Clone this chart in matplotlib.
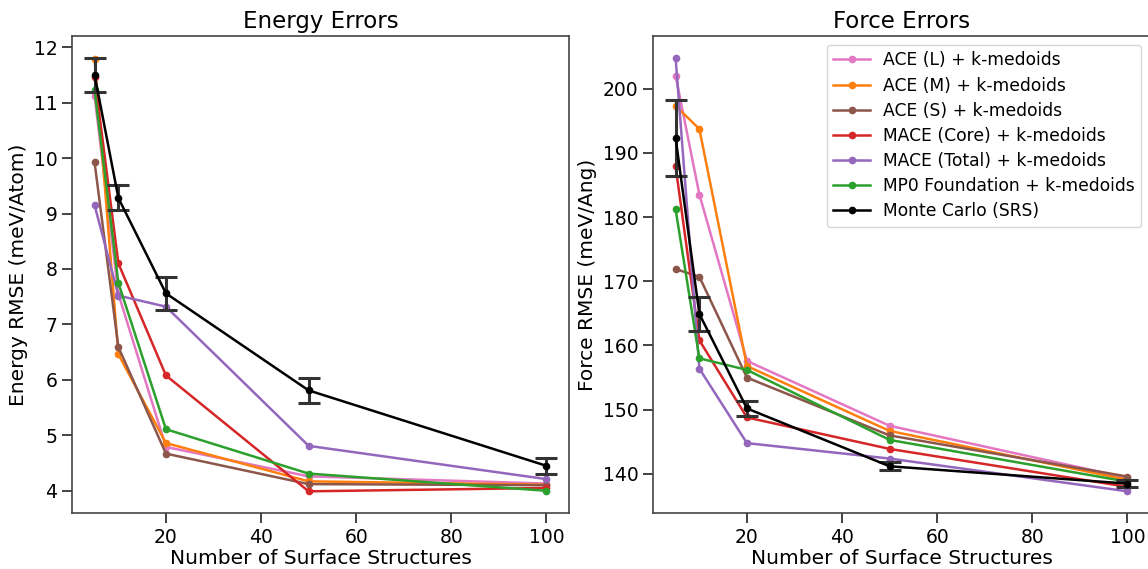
import matplotlib.pyplot as plt
from matplotlib.lines import Line2D

n_struct = [5, 10, 20, 50, 100]

labels = ['ACE (L) + k-medoids', 'ACE (M) + k-medoids', 'ACE (S) + k-medoids',
          'MACE (Core) + k-medoids', 'MACE (Total) + k-medoids',
          'MP0 Foundation + k-medoids']
colors = ['#e377c2', '#ff7f0e', '#8c564b', '#d62728', '#9467bd', '#2ca02c']

energy_ace_l = [11.12, 7.55, 4.79, 4.26, 4.13]
energy_ace_m = [11.78, 6.46, 4.86, 4.17, 4.11]
energy_ace_s = [9.92, 6.59, 4.67, 4.12, 4.10]
energy_mace_core = [11.46, 8.10, 6.08, 3.99, 4.05]
energy_mace_total = [9.15, 7.52, 7.32, 4.81, 4.21]
energy_mp0 = [11.22, 7.75, 5.11, 4.31, 4.00]
energy_mc = [11.50, 9.28, 7.56, 5.81, 4.45]
energy_mc_err = [0.31, 0.225, 0.30, 0.23, 0.14]

force_ace_l = [202.0, 183.5, 157.6, 147.5, 139.4]
force_ace_m = [197.3, 193.7, 156.8, 146.7, 139.1]
force_ace_s = [171.9, 170.7, 155.0, 146.0, 139.6]
force_mace_core = [187.9, 160.8, 148.8, 143.9, 138.0]
force_mace_total = [204.8, 156.4, 144.8, 142.4, 137.3]
force_mp0 = [181.2, 158.0, 156.2, 145.3, 138.8]
force_mc = [192.3, 164.9, 150.2, 141.2, 138.5]
force_mc_err = [5.9, 2.6, 1.2, 0.6, 0.5]

energy_series = [energy_ace_l, energy_ace_m, energy_ace_s, energy_mace_core,
                 energy_mace_total, energy_mp0]
force_series = [force_ace_l, force_ace_m, force_ace_s, force_mace_core,
                force_mace_total, force_mp0]

fig = plt.figure(figsize=(11.48, 5.69), dpi=100)
ax1 = fig.add_axes([72/1148, 1 - 513/569, 497/1148, 477/569])
ax2 = fig.add_axes([653/1148, 1 - 513/569, 497/1148, 477/569])

def draw(ax, series, mc, mc_err):
    handles = []
    for s, c, lab in zip(series, colors, labels):
        h, = ax.plot(n_struct, s, '-o', color=c, lw=1.8, ms=4.5, label=lab)
        handles.append(h)
    ax.errorbar(n_struct, mc, yerr=mc_err, fmt='-o', color='k', lw=1.8, ms=4.5,
                ecolor='#333333', elinewidth=2.2, capsize=8, capthick=2.2)
    handles.append(Line2D([], [], color='k', marker='o', lw=1.8, ms=4.5,
                          label='Monte Carlo (SRS)'))
    for sp in ax.spines.values():
        sp.set_color('#444444')
        sp.set_linewidth(1.2)
    ax.tick_params(labelsize=13.5, length=7, width=1.2, color='#222222')
    ax.set_xlabel('Number of Surface Structures', fontsize=14.5, labelpad=2)
    ax.set_xticks([20, 40, 60, 80, 100])
    return handles

draw(ax1, energy_series, energy_mc, energy_mc_err)
ax1.set_title('Energy Errors', fontsize=16.5)
ax1.set_ylabel('Energy RMSE (meV/Atom)', fontsize=14.5)

handles = draw(ax2, force_series, force_mc, force_mc_err)
ax2.set_title('Force Errors', fontsize=16.5)
ax2.set_ylabel('Force RMSE (meV/Ang)', fontsize=14.5)
ax2.legend(handles=handles, loc='upper right', fontsize=12.3,
           handlelength=2.15, labelspacing=0.42, handletextpad=0.75)

fig.savefig('out.png', dpi=100)
